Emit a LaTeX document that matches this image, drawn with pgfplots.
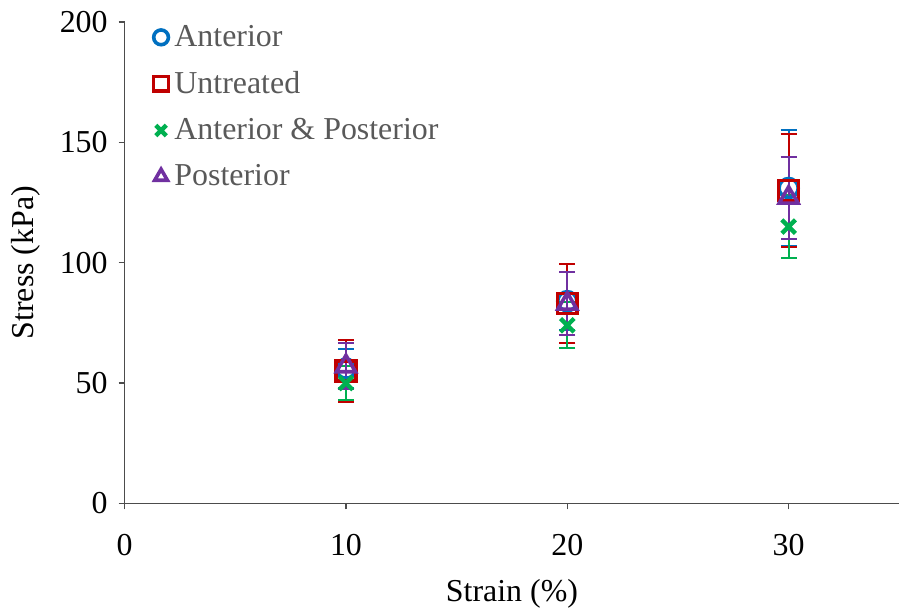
\documentclass[border=0pt]{standalone}
\usepackage{fontspec}
\setmainfont{Liberation Serif}
\usepackage{pgfplots}
\pgfplotsset{compat=1.18}
\definecolor{cA}{RGB}{0,112,192}
\definecolor{cU}{RGB}{192,0,0}
\definecolor{cAP}{RGB}{0,176,80}
\definecolor{cP}{RGB}{112,48,160}
\pgfplotstableread{
x y e
10 56 8
20 84 12
30 131 24
}\anterior
\pgfplotstableread{
x y e
10 55 13
20 83 16.5
30 130 23.5
}\untreated
\pgfplotstableread{
x y e
10 50 7
20 74 9.5
30 115 13
}\antpost
\pgfplotstableread{
x y e
10 57 9.5
20 83 13
30 127 17
}\posterior
\begin{document}
\begin{tikzpicture}
\begin{axis}[
  name=main,
  scale only axis,
  width=388.5pt, height=241.5pt,
  xmin=0, xmax=35, ymin=0, ymax=200,
  xtick={0,10,20,30}, ytick={0,50,100,150,200},
  axis lines=left,
  axis line style={-, draw=black!70, line width=0.7pt},
  tick style={draw=black!70, line width=0.7pt},
  tick align=outside, major tick length=3pt,
  /pgf/number format/assume math mode=true,
  font=\fontsize{16}{19}\selectfont,
  tick label style={font=\fontsize{16}{19}\selectfont},
  xticklabel style={yshift=-9pt},
  yticklabel style={xshift=-2pt},
  label style={font=\fontsize{16}{19}\selectfont},
  xlabel={Strain (\%)}, ylabel={Stress (kPa)},
  xlabel style={yshift=-5pt},
  ylabel style={yshift=3pt},
  legend style={draw=none, fill=none, at={(0.037,0.998)}, anchor=north west,
    font=\fontsize{16}{19}\selectfont, text=black!65, row sep=9pt,
    inner sep=0pt, nodes={inner sep=1pt}},
  legend cell align=left,
  legend image post style={mark size=3.7pt},
  error bars/error bar style={line width=1pt},
  error bars/error mark options={rotate=90, mark size=4pt, line width=1pt},
]
\addplot[only marks, color=cA, mark=o, mark size=4.8pt, mark options={line width=1.8pt},
  error bars/.cd, y dir=both, y explicit]
  table[x=x, y=y, y error=e]{\anterior};
\addlegendentry{\hspace{2pt}Anterior}
\addplot[only marks, color=cU, mark=square, mark size=5pt, mark options={line width=1.8pt},
  error bars/.cd, y dir=both, y explicit]
  table[x=x, y=y, y error=e]{\untreated};
\addlegendentry{\hspace{2pt}Untreated}
\addplot[only marks, color=cAP, mark=x, mark size=4.8pt, mark options={line width=2.2pt},
  error bars/.cd, y dir=both, y explicit]
  table[x=x, y=y, y error=e]{\antpost};
\addlegendentry{\hspace{2pt}Anterior \& Posterior}
\addplot[only marks, color=cP, mark=triangle, mark size=5.5pt, mark options={line width=1.8pt},
  error bars/.cd, y dir=both, y explicit]
  table[x=x, y=y, y error=e]{\posterior};
\addlegendentry{\hspace{2pt}Posterior}
\end{axis}
\path (main.south west) ++(-62.5pt,0pt) coordinate (padL);
\path (padL) -- ++(0,1pt);
\path (main.north west) -- ++(0,11pt);
\end{tikzpicture}
\end{document}
